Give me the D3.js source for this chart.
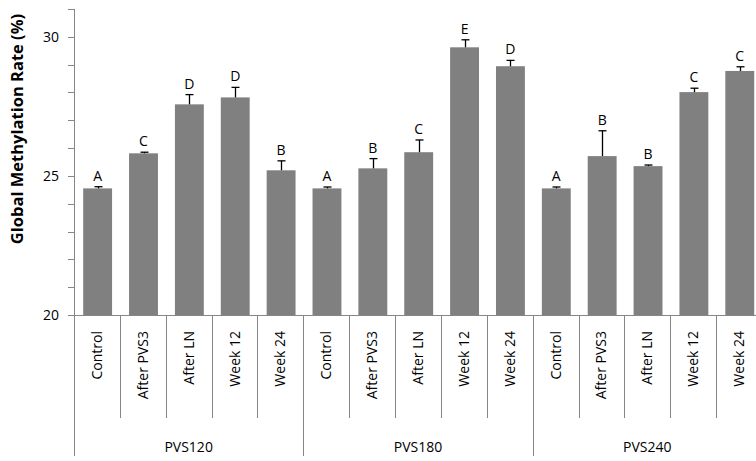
<!DOCTYPE html>
<html>
<head>
<meta charset="utf-8">
<script src="https://cdn.jsdelivr.net/npm/d3@7"></script>
<style>
  html, body { margin: 0; padding: 0; background: #fff; overflow: hidden; }
  svg { display: block; }
  text { font-family: "Open Sans", "DejaVu Sans", sans-serif; fill: #000; }
</style>
</head>
<body>
<div id="chart"></div>
<script>
/* Global methylation rate by treatment, grouped by PVS exposure time */
var groups = ['PVS120', 'PVS180', 'PVS240'];
var stages = ['Control', 'After PVS3', 'After LN', 'Week 12', 'Week 24'];

var means120 = [24.55, 25.81, 27.57, 27.82, 25.20];
var means180 = [24.55, 25.27, 25.85, 29.62, 28.94];
var means240 = [24.55, 25.71, 25.35, 28.01, 28.77];

var err120 = [0.06, 0.04, 0.35, 0.36, 0.34];
var err180 = [0.05, 0.35, 0.44, 0.27, 0.21];
var err240 = [0.05, 0.91, 0.04, 0.14, 0.15];

var letters120 = ['A', 'C', 'D', 'D', 'B'];
var letters180 = ['A', 'B', 'C', 'E', 'D'];
var letters240 = ['A', 'B', 'B', 'C', 'C'];

var yTickValues = [20, 21, 22, 23, 24, 25, 26, 27, 28, 29, 30, 31];
var yLabelValues = [20, 25, 30];

(function () {
  'use strict';

  var W = 756, H = 461;
  var axisX = 74, baseY = 315;

  var allMeans = [means120, means180, means240];
  var allErr = [err120, err180, err240];
  var allLetters = [letters120, letters180, letters240];

  /* flatten into one row per bar */
  var rows = [];
  groups.forEach(function (g, gi) {
    stages.forEach(function (s, si) {
      rows.push({
        key: g + '|' + s, group: g, stage: s, first: si === 0,
        mean: allMeans[gi][si], err: allErr[gi][si], letter: allLetters[gi][si]
      });
    });
  });

  var svg = d3.select('#chart').append('svg')
    .attr('width', W).attr('height', H);

  var x = d3.scaleBand()
    .domain(rows.map(function (d) { return d.key; }))
    .range([axisX, 762])
    .padding(0);
  var step = x.bandwidth();
  var barW = step * 0.63;

  var y = d3.scaleLinear().domain([20, 31]).range([baseY, 8.9]);

  var axisColor = '#868686';

  /* bars */
  svg.append('g').selectAll('rect')
    .data(rows).enter().append('rect')
    .attr('x', function (d) { return x(d.key) + (step - barW) / 2 + 0.7; })
    .attr('y', function (d) { return y(d.mean); })
    .attr('width', barW)
    .attr('height', function (d) { return y(20) - y(d.mean); })
    .attr('fill', '#808080');

  /* error bars (upper only) */
  var eb = svg.append('g').attr('stroke', '#000').attr('stroke-width', 1.3);
  rows.forEach(function (d) {
    var cx = Math.round(x(d.key) + step / 2 + 0.7) + 0.5;
    eb.append('line')
      .attr('x1', cx).attr('x2', cx)
      .attr('y1', y(d.mean)).attr('y2', y(d.mean + d.err));
    eb.append('line')
      .attr('x1', cx - 4).attr('x2', cx + 4)
      .attr('y1', y(d.mean + d.err)).attr('y2', y(d.mean + d.err));
  });

  /* significance letters */
  svg.append('g').selectAll('text')
    .data(rows).enter().append('text')
    .attr('x', function (d) { return x(d.key) + step / 2 + 0.7; })
    .attr('y', function (d) { return y(d.mean + d.err) - 6; })
    .attr('text-anchor', 'middle')
    .style('font-size', '14px')
    .text(function (d) { return d.letter; });

  /* y axis */
  var ya = svg.append('g');
  ya.append('line')
    .attr('x1', axisX + 0.5).attr('x2', axisX + 0.5)
    .attr('y1', y(31)).attr('y2', 456)
    .attr('stroke', axisColor);
  ya.selectAll('line.tick')
    .data(yTickValues).enter().append('line')
    .attr('class', 'tick')
    .attr('x1', axisX - 6).attr('x2', axisX)
    .attr('y1', function (v) { return Math.round(y(v)) + 0.5; })
    .attr('y2', function (v) { return Math.round(y(v)) + 0.5; })
    .attr('stroke', axisColor);
  ya.selectAll('text')
    .data(yLabelValues).enter().append('text')
    .attr('x', axisX - 15)
    .attr('y', function (v) { return y(v); })
    .attr('dy', '0.36em')
    .attr('text-anchor', 'end')
    .style('font-size', '14px')
    .text(function (v) { return v; });

  svg.append('text')
    .attr('transform', 'translate(23,129) rotate(-90)')
    .attr('text-anchor', 'middle')
    .style('font-size', '16.5px')
    .style('font-weight', 'bold')
    .text('Global Methylation Rate (%)');

  /* x axis: baseline, dividers, labels */
  var xa = svg.append('g');
  xa.append('line')
    .attr('x1', axisX - 6).attr('x2', W)
    .attr('y1', baseY + 0.5).attr('y2', baseY + 0.5)
    .attr('stroke', axisColor);

  rows.forEach(function (d) {
    var bx = Math.round(x(d.key)) + 0.5;
    if (d.first) { return; }
    xa.append('line')
      .attr('x1', bx).attr('x2', bx)
      .attr('y1', baseY).attr('y2', 418)
      .attr('stroke', axisColor);
  });
  groups.forEach(function (g, gi) {
    if (gi === 0) { return; }
    var bx = Math.round(x(g + '|' + stages[0])) + 0.5;
    xa.append('line')
      .attr('x1', bx).attr('x2', bx)
      .attr('y1', baseY).attr('y2', 456)
      .attr('stroke', axisColor);
  });

  xa.selectAll('text.stage')
    .data(rows).enter().append('text')
    .attr('class', 'stage')
    .attr('transform', function (d) {
      return 'translate(' + (x(d.key) + step / 2 + 5) + ',331) rotate(-90)';
    })
    .attr('text-anchor', 'end')
    .style('font-size', '14px')
    .text(function (d) { return d.stage; });

  xa.selectAll('text.group')
    .data(groups).enter().append('text')
    .attr('class', 'group')
    .attr('x', function (g) {
      var a = x(g + '|' + stages[0]);
      var b = x(g + '|' + stages[stages.length - 1]) + step;
      return (a + b) / 2;
    })
    .attr('y', 452)
    .attr('text-anchor', 'middle')
    .style('font-size', '14px')
    .text(function (g) { return g; });
})();
</script>
</body>
</html>
